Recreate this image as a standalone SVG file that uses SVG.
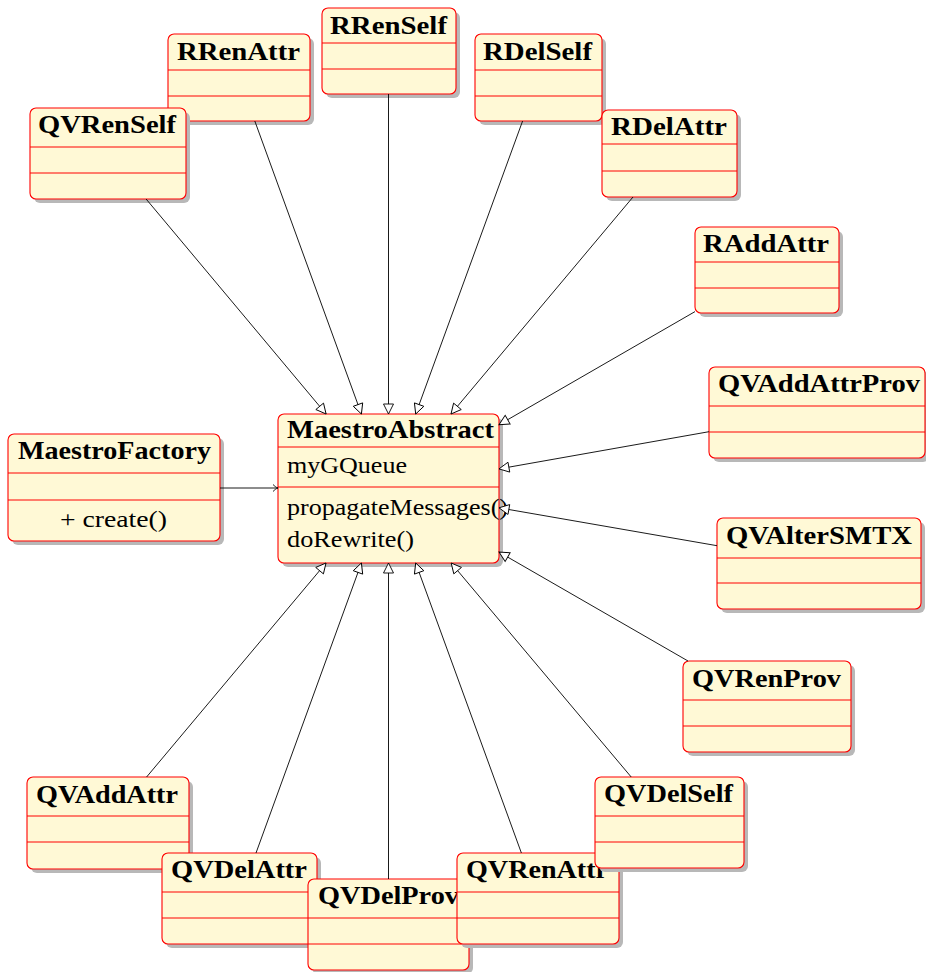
<svg xmlns="http://www.w3.org/2000/svg" width="926" height="972" viewBox="0 0 926 972">
  <style>
    .shadow { fill: #b8b8b8; filter: url(#soft); }
    .box { fill: #fff9d6; stroke: #ff0000; stroke-width: 1.1; }
    .sep { stroke: #ff0000; stroke-width: 1; }
    .title { font-family: "Liberation Serif", "DejaVu Serif", serif; font-weight: bold; font-size: 25.5px; fill: #000; }
    .member { font-family: "Liberation Serif", "DejaVu Serif", serif; font-size: 24px; fill: #000; }
    .gen { stroke: #000; stroke-width: 0.9; fill: none; marker-end: url(#hollow); }
    .dep { stroke: #000; stroke-width: 0.9; fill: none; marker-end: url(#barb); }
  </style>
  <defs>
    <filter id="soft" x="-10%" y="-10%" width="120%" height="120%">
      <feGaussianBlur stdDeviation="0.7"/>
    </filter>
    <!-- hollow triangle for generalization -->
    <marker id="hollow" viewBox="0 0 12 12" refX="11" refY="6" markerWidth="12" markerHeight="12" markerUnits="userSpaceOnUse" orient="auto">
      <path d="M1,1 L11,6 L1,11 Z" fill="#fff" stroke="#000" stroke-width="0.9"/>
    </marker>
    <!-- small open arrow for the factory dependency -->
    <marker id="barb" viewBox="0 0 7 8" refX="5.5" refY="4" markerWidth="7" markerHeight="8" markerUnits="userSpaceOnUse" orient="auto">
      <path d="M0.5,0.5 C2,2 3.5,3.4 5.5,4 C3.5,4.6 2,6 0.5,7.5" fill="none" stroke="#000" stroke-width="0.9"/>
    </marker>
  </defs>

  <rect width="926" height="972" fill="#fff"/>

  <g id="RRenAttr">
    <rect class="shadow" x="172" y="38" width="142" height="87" rx="6"/>
    <rect class="box" x="168" y="34" width="142" height="87" rx="6"/>
    <line class="sep" x1="168" y1="70" x2="310" y2="70"/>
    <line class="sep" x1="168" y1="96" x2="310" y2="96"/>
    <text class="title" x="238.5" y="60" text-anchor="middle" textLength="123" lengthAdjust="spacingAndGlyphs">RRenAttr</text>
  </g>
  <g id="QVRenSelf">
    <rect class="shadow" x="34" y="112" width="156" height="91" rx="6"/>
    <rect class="box" x="30" y="108" width="156" height="91" rx="6"/>
    <line class="sep" x1="30" y1="147" x2="186" y2="147"/>
    <line class="sep" x1="30" y1="173" x2="186" y2="173"/>
    <text class="title" x="107" y="133" text-anchor="middle" textLength="138" lengthAdjust="spacingAndGlyphs">QVRenSelf</text>
  </g>
  <g id="RRenSelf">
    <rect class="shadow" x="326" y="12" width="134" height="86" rx="6"/>
    <rect class="box" x="322" y="8" width="134" height="86" rx="6"/>
    <line class="sep" x1="322" y1="43" x2="456" y2="43"/>
    <line class="sep" x1="322" y1="69" x2="456" y2="69"/>
    <text class="title" x="388.5" y="34" text-anchor="middle" textLength="117" lengthAdjust="spacingAndGlyphs">RRenSelf</text>
  </g>
  <g id="RDelSelf">
    <rect class="shadow" x="479" y="38" width="127" height="87" rx="6"/>
    <rect class="box" x="475" y="34" width="127" height="87" rx="6"/>
    <line class="sep" x1="475" y1="70" x2="602" y2="70"/>
    <line class="sep" x1="475" y1="96" x2="602" y2="96"/>
    <text class="title" x="537.5" y="60" text-anchor="middle" textLength="109" lengthAdjust="spacingAndGlyphs">RDelSelf</text>
  </g>
  <g id="RDelAttr">
    <rect class="shadow" x="606" y="114" width="135" height="87" rx="6"/>
    <rect class="box" x="602" y="110" width="135" height="87" rx="6"/>
    <line class="sep" x1="602" y1="144" x2="737" y2="144"/>
    <line class="sep" x1="602" y1="171" x2="737" y2="171"/>
    <text class="title" x="669" y="135" text-anchor="middle" textLength="116" lengthAdjust="spacingAndGlyphs">RDelAttr</text>
  </g>
  <g id="RAddAttr">
    <rect class="shadow" x="699" y="231" width="144" height="86" rx="6"/>
    <rect class="box" x="695" y="227" width="144" height="86" rx="6"/>
    <line class="sep" x1="695" y1="262" x2="839" y2="262"/>
    <line class="sep" x1="695" y1="288" x2="839" y2="288"/>
    <text class="title" x="766" y="252" text-anchor="middle" textLength="126" lengthAdjust="spacingAndGlyphs">RAddAttr</text>
  </g>
  <g id="QVAddAttrProv">
    <rect class="shadow" x="713" y="371" width="216" height="91" rx="6"/>
    <rect class="box" x="709" y="367" width="216" height="91" rx="6"/>
    <line class="sep" x1="709" y1="406" x2="925" y2="406"/>
    <line class="sep" x1="709" y1="432" x2="925" y2="432"/>
    <text class="title" x="819" y="392" text-anchor="middle" textLength="202" lengthAdjust="spacingAndGlyphs">QVAddAttrProv</text>
  </g>
  <g id="QVAlterSMTX">
    <rect class="shadow" x="721" y="522" width="204" height="91" rx="6"/>
    <rect class="box" x="717" y="518" width="204" height="91" rx="6"/>
    <line class="sep" x1="717" y1="558" x2="921" y2="558"/>
    <line class="sep" x1="717" y1="583" x2="921" y2="583"/>
    <text class="title" x="819" y="544" text-anchor="middle" textLength="186" lengthAdjust="spacingAndGlyphs">QVAlterSMTX</text>
  </g>
  <g id="QVRenProv">
    <rect class="shadow" x="687" y="665" width="168" height="91" rx="6"/>
    <rect class="box" x="683" y="661" width="168" height="91" rx="6"/>
    <line class="sep" x1="683" y1="700" x2="851" y2="700"/>
    <line class="sep" x1="683" y1="726" x2="851" y2="726"/>
    <text class="title" x="766.5" y="687" text-anchor="middle" textLength="149" lengthAdjust="spacingAndGlyphs">QVRenProv</text>
  </g>
  <g id="QVAddAttr">
    <rect class="shadow" x="31" y="781" width="162" height="92" rx="6"/>
    <rect class="box" x="27" y="777" width="162" height="92" rx="6"/>
    <line class="sep" x1="27" y1="816" x2="189" y2="816"/>
    <line class="sep" x1="27" y1="842" x2="189" y2="842"/>
    <text class="title" x="107" y="803" text-anchor="middle" textLength="142" lengthAdjust="spacingAndGlyphs">QVAddAttr</text>
  </g>
  <g id="QVDelAttr">
    <rect class="shadow" x="166" y="857" width="155" height="91" rx="6"/>
    <rect class="box" x="162" y="853" width="155" height="91" rx="6"/>
    <line class="sep" x1="162" y1="892" x2="317" y2="892"/>
    <line class="sep" x1="162" y1="918" x2="317" y2="918"/>
    <text class="title" x="239" y="878" text-anchor="middle" textLength="136" lengthAdjust="spacingAndGlyphs">QVDelAttr</text>
  </g>
  <g id="QVDelProv">
    <rect class="shadow" x="312" y="883" width="161" height="91" rx="6"/>
    <rect class="box" x="308" y="879" width="161" height="91" rx="6"/>
    <line class="sep" x1="308" y1="918" x2="469" y2="918"/>
    <line class="sep" x1="308" y1="944" x2="469" y2="944"/>
    <text class="title" x="388.5" y="904" text-anchor="middle" textLength="141" lengthAdjust="spacingAndGlyphs">QVDelProv</text>
  </g>
  <g id="QVRenAttr">
    <rect class="shadow" x="461" y="857" width="162" height="91" rx="6"/>
    <rect class="box" x="457" y="853" width="162" height="91" rx="6"/>
    <line class="sep" x1="457" y1="892" x2="619" y2="892"/>
    <line class="sep" x1="457" y1="918" x2="619" y2="918"/>
    <text class="title" x="537" y="878" text-anchor="middle" textLength="142" lengthAdjust="spacingAndGlyphs">QVRenAttr</text>
  </g>
  <g id="QVDelSelf">
    <rect class="shadow" x="599" y="781" width="149" height="91" rx="6"/>
    <rect class="box" x="595" y="777" width="149" height="91" rx="6"/>
    <line class="sep" x1="595" y1="816" x2="744" y2="816"/>
    <line class="sep" x1="595" y1="842" x2="744" y2="842"/>
    <text class="title" x="668.5" y="802" text-anchor="middle" textLength="129" lengthAdjust="spacingAndGlyphs">QVDelSelf</text>
  </g>
  <g id="MaestroFactory">
    <rect class="shadow" x="12" y="438" width="212" height="107" rx="6"/>
    <rect class="box" x="8" y="434" width="212" height="107" rx="6"/>
    <line class="sep" x1="8" y1="473" x2="220" y2="473"/>
    <line class="sep" x1="8" y1="500" x2="220" y2="500"/>
    <text class="title" x="114.5" y="459" text-anchor="middle" textLength="193" lengthAdjust="spacingAndGlyphs">MaestroFactory</text>
    <text class="member" x="113.5" y="527" text-anchor="middle" textLength="107" lengthAdjust="spacingAndGlyphs">+ create()</text>
  </g>
  <g id="MaestroAbstract">
    <rect class="shadow" x="282" y="418" width="221" height="149" rx="6"/>
    <rect class="box" x="278" y="414" width="221" height="149" rx="6"/>
    <line class="sep" x1="278" y1="447" x2="499" y2="447"/>
    <line class="sep" x1="278" y1="487" x2="499" y2="487"/>
    <text class="title" x="287" y="438" textLength="207" lengthAdjust="spacingAndGlyphs">MaestroAbstract</text>
    <text class="member" x="287" y="473" textLength="120" lengthAdjust="spacingAndGlyphs">myGQueue</text>
    <text class="member" x="287" y="515" textLength="221" lengthAdjust="spacingAndGlyphs">propagateMessages()</text>
    <text class="member" x="287" y="547" textLength="127" lengthAdjust="spacingAndGlyphs">doRewrite()</text>
  </g>

  <g id="connectors">
    <line class="gen" x1="146.1" y1="199" x2="326.1" y2="414"/>
    <line class="gen" x1="254.8" y1="121" x2="361.4" y2="414"/>
    <line class="gen" x1="388.5" y1="94" x2="388.5" y2="414"/>
    <line class="gen" x1="522.6" y1="121" x2="415.7" y2="414"/>
    <line class="gen" x1="633" y1="197" x2="451" y2="414"/>
    <line class="gen" x1="695" y1="311.6" x2="499" y2="424.7"/>
    <line class="gen" x1="709" y1="431.7" x2="499" y2="468.9"/>
    <line class="gen" x1="717" y1="545.7" x2="499" y2="507.8"/>
    <line class="gen" x1="688" y1="661" x2="499" y2="552.1"/>
    <line class="gen" x1="631.2" y1="777" x2="451.2" y2="563"/>
    <line class="gen" x1="521.4" y1="853" x2="415.7" y2="563"/>
    <line class="gen" x1="388.5" y1="879" x2="388.5" y2="563"/>
    <line class="gen" x1="256" y1="853" x2="361.4" y2="563"/>
    <line class="gen" x1="146.6" y1="777" x2="326" y2="563"/>
    <line class="dep" x1="220" y1="488" x2="278" y2="488"/>
  </g>
</svg>
